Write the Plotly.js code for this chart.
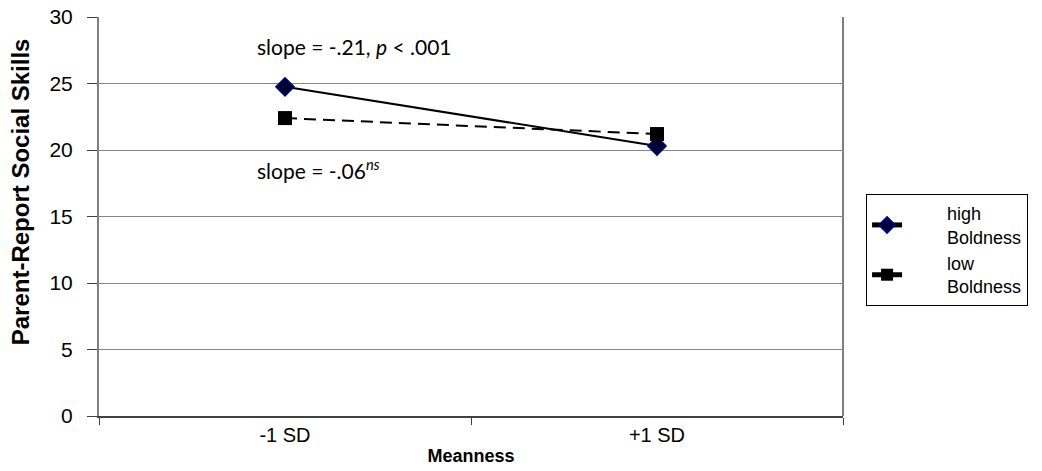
<!DOCTYPE html>
<html><head><meta charset="utf-8">
<script src="https://cdn.plot.ly/plotly-3.0.1.min.js"></script>
<style>html,body{margin:0;padding:0;background:#fff}</style>
</head><body>
<div id="chart" style="width:1042px;height:471px"></div>
<script>
var categories = ["-1 SD", "+1 SD"];
var highBoldness = [24.75, 20.3];
var lowBoldness = [22.4, 21.2];
var seriesNames = ["high", "low"];
var seriesSuffix = "Boldness";
var yTicks = [0, 5, 10, 15, 20, 25, 30];
var xTitle = "Meanness";
var yTitle = "Parent-Report Social Skills";

var pad = "&nbsp;&nbsp;&nbsp;&nbsp;&nbsp;&nbsp;&nbsp;&nbsp;";
function legendName(n) { return pad + n + "<br>" + pad + seriesSuffix; }

var traces = [
  {x: categories, y: highBoldness, name: legendName(seriesNames[0]), type: "scatter", mode: "lines+markers",
   line: {color: "#000000", width: 2}, marker: {symbol: "diamond", size: 14, color: "#000033", line: {color: "#000080", width: 1.5}}},
  {x: categories, y: lowBoldness, name: legendName(seriesNames[1]), type: "scatter", mode: "lines+markers",
   line: {color: "#000000", width: 2, dash: "12px,7px"}, marker: {symbol: "square", size: 14, color: "#000000"}}
];

var layout = {
  width: 1042, height: 471,
  margin: {l: 99, r: 199, t: 17, b: 55, autoexpand: false},
  paper_bgcolor: "#ffffff", plot_bgcolor: "#ffffff",
  font: {family: "Liberation Sans, Arial, sans-serif", color: "#000000", size: 20},
  xaxis: {
    type: "category", range: [-0.5, 1.5], tickson: "boundaries",
    showgrid: false, zeroline: false,
    showline: true, linecolor: "#404040", linewidth: 2,
    ticks: "outside", ticklen: 7, tickcolor: "#404040", tickwidth: 1,
    ticklabelstandoff: 0,
    tickfont: {size: 20},
    title: {text: "<b>" + xTitle + "</b>", font: {size: 18}, standoff: 4}
  },
  yaxis: {
    range: [0, 30], tickvals: yTicks, ticktext: yTicks.map(String),
    showgrid: true, gridcolor: "#868686", gridwidth: 1,
    zeroline: false,
    showline: true, linecolor: "#808080", linewidth: 2,
    ticks: "outside", ticklen: 10, tickcolor: "#404040", tickwidth: 1,
    ticklabelstandoff: 10,
    tickfont: {size: 21}
  },
  showlegend: true,
  legend: {
    x: 1.031, xanchor: "left", y: 0.416, yanchor: "middle",
    bordercolor: "#000000", borderwidth: 1, bgcolor: "#ffffff",
    font: {size: 18}, tracegroupgap: 0, itemsizing: "constant"
  },
  shapes: [
    {type: "line", xref: "paper", yref: "paper", x0: 1, x1: 1, y0: 0, y1: 1, line: {color: "#808080", width: 2}}
  ],
  annotations: [
    {xref: "paper", yref: "paper", x: -0.106, y: 0.561, xanchor: "center", yanchor: "middle", showarrow: false,
     textangle: -90, text: "<b>" + yTitle + "</b>", font: {size: 24}},
    {xref: "paper", yref: "y", x: 0.21, y: 27.8, xanchor: "left", yanchor: "middle", showarrow: false,
     text: "slope = -.21, <i>p</i> &lt; .001", font: {family: "Lato, sans-serif", size: 21}},
    {xref: "paper", yref: "y", x: 0.21, y: 18.6, xanchor: "left", yanchor: "middle", showarrow: false,
     text: "slope = -.06<sup><i>ns</i></sup>", font: {family: "Lato, sans-serif", size: 21}}
  ]
};

Plotly.newPlot("chart", traces, layout, {displayModeBar: false, staticPlot: true});
</script>
</body></html>
